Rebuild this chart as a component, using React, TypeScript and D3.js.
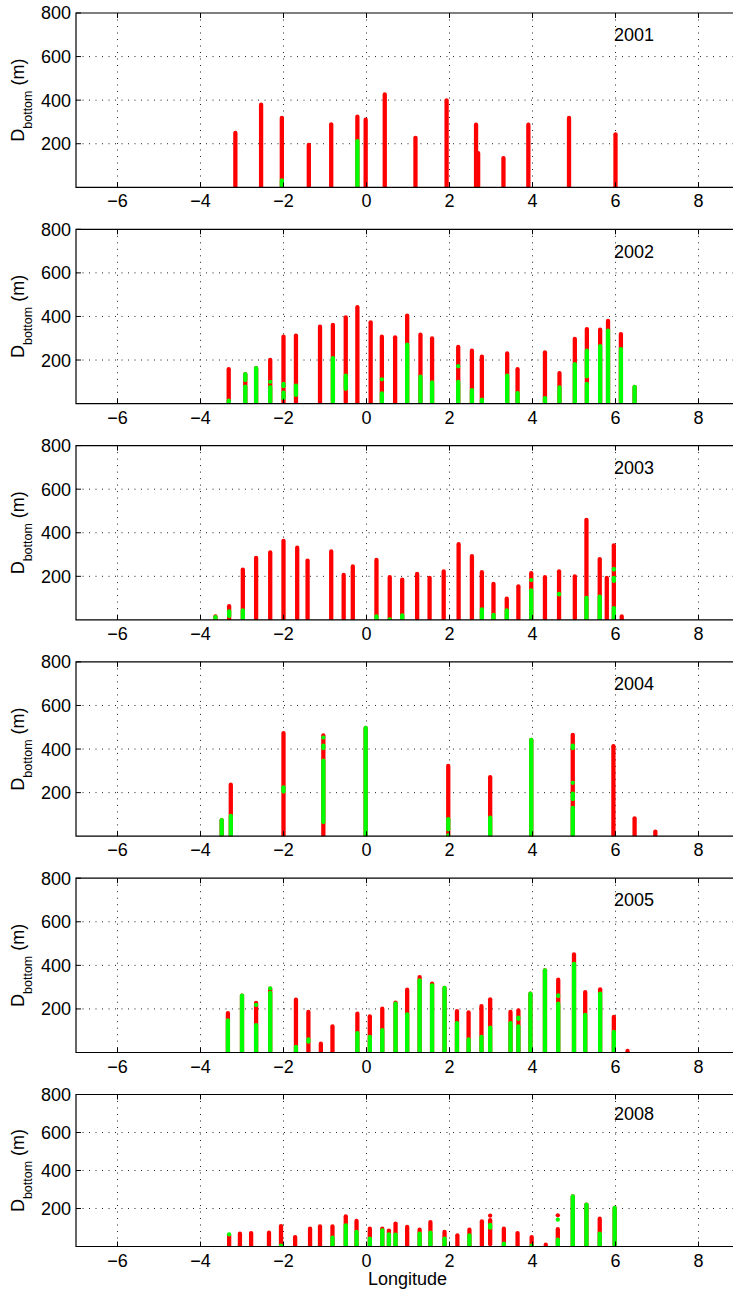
import React from "react";
import * as d3 from "d3";

type Seg = [number, number];
type Station = { lon: number; depth: number; green?: Seg[]; red?: Seg[] };

const years = ["2001", "2002", "2003", "2004", "2005", "2008"];
const xTicks = [-6, -4, -2, 0, 2, 4, 6, 8];
const yTicks = [200, 400, 600, 800];

// longitude, bottom depth, and depth ranges where the samples are green
const stations2001: Station[] = [
  { lon: -3.16, depth: 259 },
  { lon: -2.54, depth: 389 },
  { lon: -2.04, depth: 328, green: [[0, 42]] },
  { lon: -1.39, depth: 205 },
  { lon: -0.85, depth: 299 },
  { lon: -0.22, depth: 334, green: [[0, 222]] },
  { lon: -0.02, depth: 320 },
  { lon: 0.44, depth: 436 },
  { lon: 1.18, depth: 237 },
  { lon: 1.93, depth: 409 },
  { lon: 2.64, depth: 297 },
  { lon: 2.69, depth: 167 },
  { lon: 3.3, depth: 144 },
  { lon: 3.9, depth: 297 },
  { lon: 4.88, depth: 328 },
  { lon: 6.0, depth: 253 },
];

const stations2002: Station[] = [
  { lon: -3.32, depth: 168, green: [[0, 23]] },
  { lon: -2.92, depth: 145, green: [[0, 88], [98, 145]] },
  { lon: -2.66, depth: 173, green: [[0, 173]] },
  { lon: -2.32, depth: 211, green: [[0, 85], [92, 108]] },
  { lon: -2.0, depth: 317, green: [[15, 60], [70, 100]] },
  { lon: -1.7, depth: 322, green: [[30, 92]] },
  { lon: -1.12, depth: 363 },
  { lon: -0.81, depth: 371, green: [[0, 218]] },
  { lon: -0.5, depth: 406, green: [[58, 138]] },
  { lon: -0.22, depth: 452 },
  { lon: 0.1, depth: 383 },
  { lon: 0.37, depth: 317, green: [[0, 57], [105, 118]] },
  { lon: 0.69, depth: 314 },
  { lon: 0.98, depth: 414, green: [[0, 280]] },
  { lon: 1.3, depth: 326, green: [[0, 133]] },
  { lon: 1.58, depth: 309, green: [[0, 107]] },
  { lon: 2.21, depth: 270, green: [[0, 110], [165, 178]] },
  { lon: 2.54, depth: 253, green: [[0, 72]] },
  { lon: 2.78, depth: 225, green: [[0, 28]] },
  { lon: 3.39, depth: 240, green: [[0, 138]] },
  { lon: 3.64, depth: 168, green: [[0, 58]] },
  { lon: 4.3, depth: 245, green: [[0, 35]] },
  { lon: 4.65, depth: 150, green: [[0, 84]] },
  { lon: 5.02, depth: 307, green: [[0, 191]] },
  { lon: 5.31, depth: 352, green: [[0, 100], [115, 253]] },
  { lon: 5.63, depth: 349, green: [[0, 273]] },
  { lon: 5.82, depth: 389, green: [[0, 345]] },
  { lon: 6.13, depth: 329, green: [[0, 260]] },
  { lon: 6.46, depth: 86, green: [[0, 86]] },
];

const stations2003: Station[] = [
  { lon: -3.64, depth: 26, green: [[0, 22]] },
  { lon: -3.31, depth: 73, green: [[8, 49]] },
  { lon: -2.98, depth: 241, green: [[0, 53]] },
  { lon: -2.66, depth: 294 },
  { lon: -2.32, depth: 320 },
  { lon: -2.0, depth: 373 },
  { lon: -1.67, depth: 341 },
  { lon: -1.42, depth: 282 },
  { lon: -0.85, depth: 324 },
  { lon: -0.55, depth: 216 },
  { lon: -0.33, depth: 255 },
  { lon: 0.24, depth: 285, green: [[0, 26]] },
  { lon: 0.56, depth: 206, green: [[0, 10]] },
  { lon: 0.86, depth: 195, green: [[0, 30]] },
  { lon: 1.22, depth: 221 },
  { lon: 1.52, depth: 203 },
  { lon: 1.86, depth: 232 },
  { lon: 2.22, depth: 357 },
  { lon: 2.54, depth: 303 },
  { lon: 2.78, depth: 229, green: [[0, 58]] },
  { lon: 3.06, depth: 175, green: [[0, 33]] },
  { lon: 3.38, depth: 107, green: [[0, 53]] },
  { lon: 3.66, depth: 164 },
  { lon: 3.97, depth: 224, green: [[0, 145], [178, 188]] },
  { lon: 4.3, depth: 206 },
  { lon: 4.64, depth: 233, green: [[107, 129]] },
  { lon: 5.02, depth: 210 },
  { lon: 5.3, depth: 469, green: [[0, 111]] },
  { lon: 5.62, depth: 289, green: [[0, 117]] },
  { lon: 5.79, depth: 203 },
  { lon: 5.96, depth: 352, green: [[0, 64], [169, 203], [221, 244]] },
  { lon: 6.15, depth: 26 },
];

const stations2004: Station[] = [
  { lon: -3.49, depth: 83, green: [[0, 83]] },
  { lon: -3.27, depth: 246, green: [[0, 103]] },
  { lon: -2.0, depth: 483, green: [[195, 234]] },
  { lon: -1.04, depth: 472, green: [[55, 357], [395, 425], [445, 460]] },
  { lon: -0.02, depth: 507, green: [[0, 507]] },
  { lon: 1.97, depth: 332, green: [[0, 12], [22, 88]] },
  { lon: 2.98, depth: 281, green: [[0, 95]] },
  { lon: 3.97, depth: 452, green: [[0, 452]] },
  { lon: 4.97, depth: 475, green: [[0, 140], [160, 205], [240, 250], [395, 425]] },
  { lon: 5.95, depth: 423 },
  { lon: 6.46, depth: 92 },
  { lon: 6.96, depth: 31 },
];

const stations2005: Station[] = [
  { lon: -3.34, depth: 191, green: [[0, 157]] },
  { lon: -3.0, depth: 271, green: [[0, 271]] },
  { lon: -2.66, depth: 237, green: [[0, 135], [211, 226]] },
  { lon: -2.32, depth: 303, green: [[0, 283], [290, 298]] },
  { lon: -1.7, depth: 252, green: [[0, 35]] },
  { lon: -1.4, depth: 196, green: [[40, 70]] },
  { lon: -1.1, depth: 50 },
  { lon: -0.82, depth: 130 },
  { lon: -0.22, depth: 188, green: [[0, 99]] },
  { lon: 0.08, depth: 176, green: [[0, 81]] },
  { lon: 0.38, depth: 211, green: [[0, 112]] },
  { lon: 0.7, depth: 239, green: [[0, 234]] },
  { lon: 0.98, depth: 298, green: [[0, 185]] },
  { lon: 1.28, depth: 356, green: [[0, 341]] },
  { lon: 1.58, depth: 326, green: [[0, 318]] },
  { lon: 1.88, depth: 306, green: [[0, 306]] },
  { lon: 2.18, depth: 200, green: [[0, 145]] },
  { lon: 2.46, depth: 194, green: [[0, 70]] },
  { lon: 2.77, depth: 223, green: [[0, 81]] },
  { lon: 2.98, depth: 254, green: [[0, 124]] },
  { lon: 3.47, depth: 196, green: [[0, 145]] },
  { lon: 3.66, depth: 203, green: [[0, 130], [145, 170]] },
  { lon: 3.95, depth: 280, green: [[0, 280]] },
  { lon: 4.3, depth: 387, green: [[0, 387]] },
  { lon: 4.62, depth: 344, green: [[0, 234], [249, 272]] },
  { lon: 5.0, depth: 460, green: [[0, 417]] },
  { lon: 5.27, depth: 287, green: [[0, 183]] },
  { lon: 5.63, depth: 300, green: [[0, 280]] },
  { lon: 5.96, depth: 173, green: [[0, 104]] },
  { lon: 6.29, depth: 17 },
];

const stations2008: Station[] = [
  { lon: -3.31, depth: 72, green: [[55, 72]] },
  { lon: -3.05, depth: 79 },
  { lon: -2.78, depth: 82 },
  { lon: -2.35, depth: 84 },
  { lon: -2.06, depth: 119, green: [[0, 15]] },
  { lon: -1.72, depth: 61 },
  { lon: -1.36, depth: 105 },
  { lon: -1.12, depth: 117 },
  { lon: -0.82, depth: 117, green: [[0, 58]] },
  { lon: -0.5, depth: 170, green: [[0, 123]] },
  { lon: -0.24, depth: 146, green: [[0, 88]] },
  { lon: 0.08, depth: 105, green: [[0, 53]] },
  { lon: 0.38, depth: 105, green: [[0, 96]] },
  { lon: 0.54, depth: 95, green: [[0, 75]] },
  { lon: 0.7, depth: 132, green: [[0, 74]] },
  { lon: 0.98, depth: 114 },
  { lon: 1.28, depth: 100, green: [[0, 79]] },
  { lon: 1.54, depth: 140, green: [[0, 84]] },
  { lon: 1.88, depth: 88, green: [[0, 53]] },
  { lon: 2.19, depth: 70 },
  { lon: 2.48, depth: 100, green: [[0, 70]] },
  { lon: 2.78, depth: 144 },
  { lon: 2.98, depth: 167, red: [[0, 150], [158, 167]], green: [[88, 125]] },
  { lon: 3.31, depth: 105, green: [[0, 26]] },
  { lon: 3.64, depth: 82 },
  { lon: 3.98, depth: 61, green: [[0, 15]] },
  { lon: 4.32, depth: 21 },
  { lon: 4.61, depth: 167, red: [[0, 102], [160, 168]], green: [[0, 47], [136, 146]] },
  { lon: 4.97, depth: 275, green: [[0, 275]] },
  { lon: 5.3, depth: 232, green: [[0, 232]] },
  { lon: 5.62, depth: 158, green: [[0, 79]] },
  { lon: 5.98, depth: 214, green: [[0, 214]] },
];

const panels = [stations2001, stations2002, stations2003, stations2004, stations2005, stations2008];

const width = 733;
const height = 1293;
const left = 76;
const firstTop = 13;
const step = 216.3;
const panelH = 174.3;
const lastH = 152;
const barW = 4.3;
const font = "'Liberation Sans', Arial, Helvetica, sans-serif";
const RED = "#ff0000";
const GREEN = "#00ff00";

const x = d3.scaleLinear().domain([-7, 9]).range([left, left + 16 * 41.5]);
const fmt = d3.format("d");

// a run of samples: round-capped segment whose visible ends sit on the values
function Run({ cx, y0, y1, color }: { cx: number; y0: number; y1: number; color: string }) {
  const r = barW / 2;
  const a = Math.max(y0, y1) - r;
  const b = Math.min(y0, y1) + r;
  const lo = a < b ? (a + b) / 2 : a;
  const hi = a < b ? (a + b) / 2 : b;
  return (
    <line x1={cx} x2={cx} y1={lo} y2={hi} stroke={color} strokeWidth={barW} strokeLinecap="round" />
  );
}

function Panel({ idx }: { idx: number }) {
  const top = firstTop + idx * step;
  const h = idx === panels.length - 1 ? lastH : panelH;
  const y = d3.scaleLinear().domain([0, 800]).range([top + h, top]);
  const bottom = top + h;
  const right = x.range()[1];
  const data = panels[idx];
  const mid = top + h / 2;

  return (
    <g>
      <defs>
        <clipPath id={`clip${idx}`}>
          <rect x={left} y={top} width={right - left} height={h} />
        </clipPath>
      </defs>
      {/* dotted grid */}
      {xTicks.map((t) => (
        <line key={"gx" + t} x1={x(t)} x2={x(t)} y1={top} y2={bottom}
          stroke="#222" strokeWidth={1} strokeDasharray="1,5.5" />
      ))}
      {yTicks.slice(0, 3).map((t) => (
        <line key={"gy" + t} x1={left} x2={right} y1={y(t)} y2={y(t)}
          stroke="#222" strokeWidth={1} strokeDasharray="1,5.5" />
      ))}
      {/* station profiles */}
      <g clipPath={`url(#clip${idx})`}>
        {data.map((d, i) => (
          <g key={i}>
            {(d.red || [[-5, d.depth] as Seg]).map((s, j) => (
              <Run key={"r" + j} cx={x(d.lon)} y0={y(s[0])} y1={y(s[1])} color={RED} />
            ))}
            {(d.green || []).map((s, j) => (
              <Run key={"g" + j} cx={x(d.lon)} y0={y(s[0] === 0 ? -5 : s[0])} y1={y(s[1])} color={GREEN} />
            ))}
          </g>
        ))}
      </g>
      {/* frame */}
      <path d={`M${right},${top}H${left}V${bottom}H${right}`} fill="none" stroke="#000" strokeWidth={1.2} />
      {xTicks.map((t) => (
        <g key={"tx" + t}>
          <line x1={x(t)} x2={x(t)} y1={bottom} y2={bottom - 5} stroke="#000" />
          <line x1={x(t)} x2={x(t)} y1={top} y2={top + 5} stroke="#000" />
          <text x={x(t)} y={bottom + 20} textAnchor="middle" fontSize={18} fontFamily={font}>
            {fmt(t)}
          </text>
        </g>
      ))}
      {yTicks.map((t) => (
        <g key={"ty" + t}>
          <line x1={left} x2={left + 5} y1={y(t)} y2={y(t)} stroke="#000" />
          <text x={71} y={y(t)} dy="0.36em" textAnchor="end" fontSize={18} fontFamily={font}>
            {t}
          </text>
        </g>
      ))}
      <text transform={`translate(24,${mid}) rotate(-90)`} textAnchor="middle" fontFamily={font} fontSize={18}>
        <tspan>D</tspan>
        <tspan fontSize={12.5} dy={8}>bottom</tspan>
        <tspan dy={-8}> (m)</tspan>
      </text>
      <text x={x(6) - 1.5} y={y(700)} dy="0.36em" fontSize={18} fontFamily={font}>
        {years[idx]}
      </text>
    </g>
  );
}

export default function App() {
  return (
    <svg width={width} height={height} style={{ position: "absolute", left: 0, top: 0, background: "#fff" }}>
      <rect width={width} height={height} fill="#fff" />
      {panels.map((_, i) => (
        <Panel key={i} idx={i} />
      ))}
      <text x={407.5} y={1285} textAnchor="middle" fontSize={18} fontFamily={font}>
        Longitude
      </text>
    </svg>
  );
}
